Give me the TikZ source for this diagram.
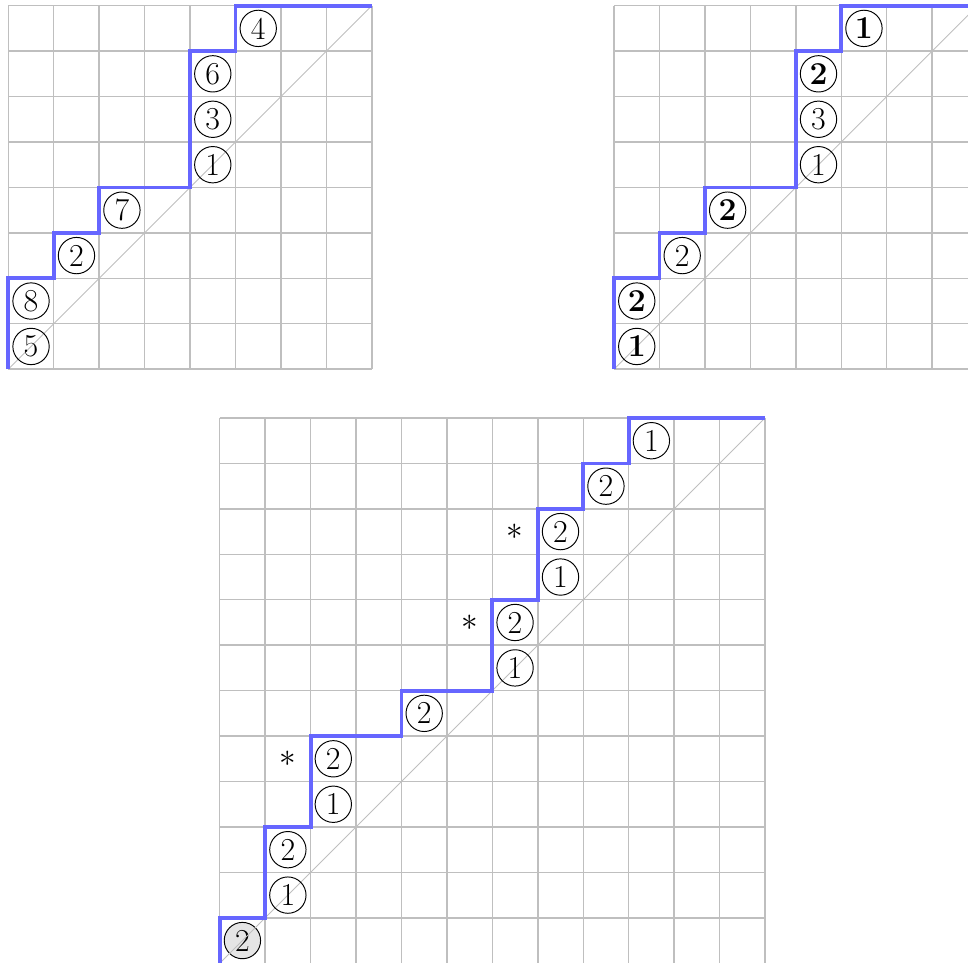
\documentclass[tikz,border=0pt]{standalone}
\begin{document}
\begin{tikzpicture}[
  gridline/.style={gray!50, line width=0.9pt},
  diag/.style={gray!50, line width=0.5pt},
  pathline/.style={blue!60, line width=2.4pt, line join=miter},
  lab/.style={circle, draw, line width=0.6pt, minimum size=0.8cm, inner sep=0pt, font=\fontsize{20}{22}\selectfont},
  boldlab/.style={lab, font=\fontsize{20}{22}\selectfont\bfseries},
  greylab/.style={lab, fill=gray!20},
  starlab/.style={inner sep=0pt, font=\fontsize{20}{22}\selectfont}
]
\useasboundingbox (-0.183,-13.046) rectangle (21.12,8.125);

% ---------- top-left ----------
\begin{scope}
  \draw[gridline] (0,0) grid (8,8);
  \draw[diag] (0,0) -- (8,8);
  \draw[pathline] (0,0) -- (0,2) -- (1,2) -- (1,3) -- (2,3) -- (2,4) -- (4,4) -- (4,7) -- (5,7) -- (5,8) -- (8,8);
  \node[lab] (a1) at (0.5,0.5) {5};
  \node[lab] (a2) at (0.5,1.5) {8};
  \node[lab] (a3) at (1.5,2.5) {2};
  \node[lab] (a4) at (2.5,3.5) {7};
  \node[lab] (a5) at (4.5,4.5) {1};
  \node[lab] (a6) at (4.5,5.5) {3};
  \node[lab] (a7) at (4.5,6.5) {6};
  \node[lab] (a8) at (5.5,7.5) {4};
\end{scope}

% ---------- top-right ----------
\begin{scope}[shift={(13.33,0)}]
  \draw[gridline] (0,0) grid (8,8);
  \draw[diag] (0,0) -- (8,8);
  \draw[pathline] (0,0) -- (0,2) -- (1,2) -- (1,3) -- (2,3) -- (2,4) -- (4,4) -- (4,7) -- (5,7) -- (5,8) -- (8,8);
  \node[boldlab] (b1) at (0.5,0.5) {1};
  \node[boldlab] (b2) at (0.5,1.5) {2};
  \node[lab] (b3) at (1.5,2.5) {2};
  \node[boldlab] (b4) at (2.5,3.5) {2};
  \node[lab] (b5) at (4.5,4.5) {1};
  \node[lab] (b6) at (4.5,5.5) {3};
  \node[boldlab] (b7) at (4.5,6.5) {2};
  \node[boldlab] (b8) at (5.5,7.5) {1};
\end{scope}

% ---------- bottom ----------
\begin{scope}[shift={(4.652,-13.074)}]
  \draw[gridline] (0,0) grid (12,12);
  \node[greylab] (c1) at (0.5,0.5) {2};
  \draw[diag] (0,0) -- (12,12);
  \draw[pathline] (0,0) -- (0,1) -- (1,1) -- (1,3) -- (2,3) -- (2,5) -- (4,5) -- (4,6) -- (6,6) -- (6,8) -- (7,8) -- (7,10) -- (8,10) -- (8,11) -- (9,11) -- (9,12) -- (12,12);
  \node[lab] (c2) at (1.5,1.5) {1};
  \node[lab] (c3) at (1.5,2.5) {2};
  \node[lab] (c4) at (2.5,3.5) {1};
  \node[lab] (c5) at (2.5,4.5) {2};
  \node[starlab] (s1) at (1.5,4.5) {$*$};
  \node[lab] (c6) at (4.5,5.5) {2};
  \node[lab] (c7) at (6.5,6.5) {1};
  \node[lab] (c8) at (6.5,7.5) {2};
  \node[starlab] (s2) at (5.5,7.5) {$*$};
  \node[lab] (c9) at (7.5,8.5) {1};
  \node[lab] (c10) at (7.5,9.5) {2};
  \node[starlab] (s3) at (6.5,9.5) {$*$};
  \node[lab] (c11) at (8.5,10.5) {2};
  \node[lab] (c12) at (9.5,11.5) {1};
\end{scope}
\end{tikzpicture}
\end{document}
